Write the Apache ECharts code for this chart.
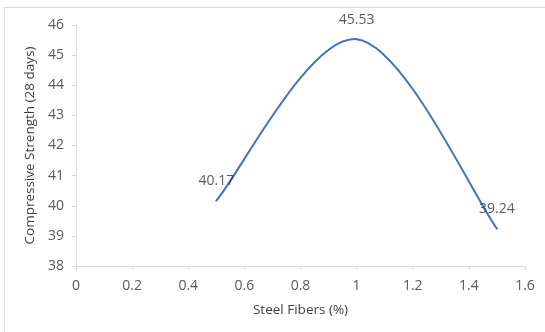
<!DOCTYPE html>
<html>
<head>
<meta charset="utf-8">
<script src="https://cdn.jsdelivr.net/npm/echarts@6/dist/echarts.min.js"></script>
<style>
  html, body { margin: 0; padding: 0; background: #fff; }
  #chart { width: 545px; height: 332px; }
</style>
</head>
<body>
<div id="chart"></div>
<script>
// Steel fibre dosage (%) against 28-day compressive strength
const fiberContent = [0.5, 1.0, 1.5];
const strength28d = [40.17, 45.53, 39.24];

const xTicks = { min: 0, max: 1.6, interval: 0.2 };
const yTicks = { min: 38, max: 46, interval: 1 };

const font = '"Open Sans", "Liberation Sans", sans-serif';
const points = fiberContent.map((x, i) => [x, strength28d[i]]);

// Smoothed scatter line: cubic Bezier segments with Catmull-Rom style tangents
function renderSmoothSegment(params, api) {
  const i = params.dataIndex;
  const n = points.length;
  if (i >= n - 1) return null;
  const c = k => api.coord(points[Math.max(0, Math.min(n - 1, k))]);
  const p0 = c(i - 1), p1 = c(i), p2 = c(i + 1), p3 = c(i + 2);
  const cp1 = [p1[0] + (p2[0] - p0[0]) / 6, p1[1] + (p2[1] - p0[1]) / 6];
  const cp2 = [p2[0] - (p3[0] - p1[0]) / 6, p2[1] - (p3[1] - p1[1]) / 6];
  return {
    type: 'bezierCurve',
    shape: {
      x1: p1[0], y1: p1[1],
      cpx1: cp1[0], cpy1: cp1[1],
      cpx2: cp2[0], cpy2: cp2[1],
      x2: p2[0], y2: p2[1]
    },
    style: { fill: null, stroke: '#4472c4', lineWidth: 2, lineCap: 'round' }
  };
}

const chart = echarts.init(document.getElementById('chart'), null, { renderer: 'canvas' });

chart.setOption({
  animation: false,
  backgroundColor: '#ffffff',
  graphic: [{
    type: 'rect',
    shape: { x: 4.5, y: 7.5, width: 560, height: 340 },
    style: { fill: 'none', stroke: '#d9d9d9', lineWidth: 1 },
    silent: true
  }],
  grid: { left: 76, top: 25, right: 20, bottom: 66 },
  xAxis: {
    type: 'value',
    min: xTicks.min, max: xTicks.max, interval: xTicks.interval,
    name: 'Steel Fibers (%)',
    nameLocation: 'middle',
    nameGap: 37,
    nameTextStyle: { color: '#404040', fontSize: 13.5, fontFamily: font },
    axisLine: { show: true, lineStyle: { color: '#d9d9d9', width: 1 } },
    axisTick: { show: true, length: 4, lineStyle: { color: '#d9d9d9' } },
    axisLabel: {
      color: '#595959', fontSize: 14, fontFamily: font, margin: 13,
      formatter: v => String(Math.round(v * 10) / 10)
    },
    splitLine: { show: false }
  },
  yAxis: {
    type: 'value',
    min: yTicks.min, max: yTicks.max, interval: yTicks.interval,
    name: 'Compressive Strength (28 days)',
    nameLocation: 'middle',
    nameGap: 29,
    nameTextStyle: { color: '#404040', fontSize: 13.5, fontFamily: font },
    axisLine: { show: true, lineStyle: { color: '#d9d9d9', width: 1 } },
    axisTick: { show: true, length: 4, lineStyle: { color: '#d9d9d9' } },
    axisLabel: { color: '#595959', fontSize: 14, fontFamily: font, margin: 12 },
    splitLine: { show: false }
  },
  series: [{
    type: 'custom',
    data: points,
    encode: { x: 0, y: 1 },
    renderItem: renderSmoothSegment,
    z: 2
  }, {
    type: 'scatter',
    data: points,
    symbol: 'circle',
    symbolSize: 1,
    itemStyle: { color: 'rgba(0,0,0,0)' },
    z: 3,
    label: {
      show: true,
      position: 'top',
      distance: 12,
      color: '#333333',
      fontSize: 14,
      fontFamily: font,
      formatter: p => p.value[1].toFixed(2)
    }
  }]
});
</script>
</body>
</html>
